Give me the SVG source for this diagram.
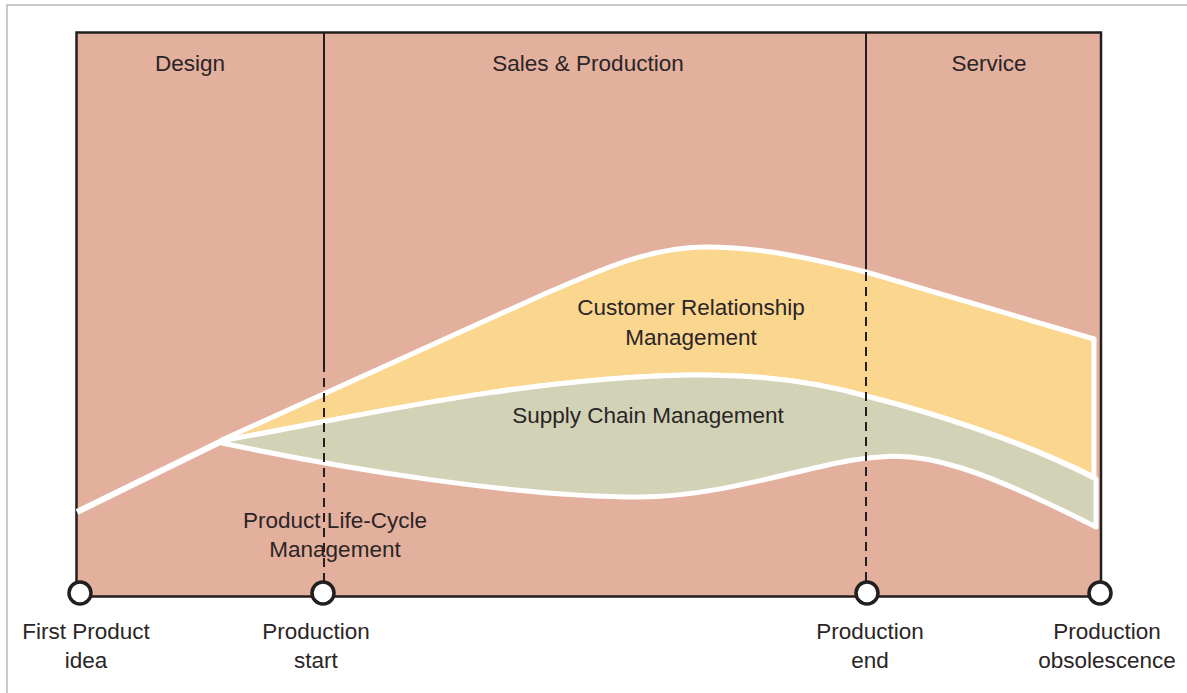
<svg xmlns="http://www.w3.org/2000/svg" width="1187" height="693" viewBox="0 0 1187 693">
  <style>
    .lbl { font-family: "Liberation Sans", Arial, sans-serif; font-size: 22.5px; fill: #2a2526; text-anchor: middle; }
    .box { fill: #e3b09d; stroke: #231f20; stroke-width: 2.5; }
    .div { stroke: #231f20; stroke-width: 2; fill: none; }
    .dash { stroke: #231f20; stroke-width: 2; fill: none; stroke-dasharray: 9 6; }
    .band { stroke: #ffffff; stroke-width: 5; stroke-linejoin: round; }
    .ms { fill: #ffffff; stroke: #231f20; stroke-width: 3.5; }
  </style>
  <rect x="0" y="0" width="1187" height="693" fill="#ffffff"/>
  <rect x="7" y="5" width="1200" height="720" fill="none" stroke="#b8b8b8" stroke-width="1.5"/>

  <g id="phases">
    <rect class="box" x="76.5" y="32.5" width="1024.5" height="564"/>
    <g id="phase-design"><text class="lbl" x="190" y="71">Design</text></g>
    <g id="phase-sales"><text class="lbl" x="588" y="71">Sales &amp; Production</text></g>
    <g id="phase-service"><text class="lbl" x="989" y="71">Service</text></g>
  </g>

  <g id="connectors">
    <line class="div" x1="324" y1="32" x2="324" y2="363"/>
    <line class="div" x1="866" y1="32" x2="866" y2="272"/>
  </g>

  <g id="plm">
    <line x1="77" y1="512" x2="224" y2="440" stroke="#ffffff" stroke-width="6"/>
    <text class="lbl" x="335" y="528">Product Life-Cycle</text>
    <text class="lbl" x="335" y="557">Management</text>
  </g>

  <g id="crm">
    <path class="band" fill="#fbd68f" d="M222,440 L540,296 C600,270 650,247 705,247 C760,247 810,258 866,272 L1094,339 L1094,477 C1020,440 930,412 866,396 C830,386 775,374 690,375 C520,378 350,418 226,440 Z"/>
    <text class="lbl" x="691" y="315">Customer Relationship</text>
    <text class="lbl" x="691" y="345">Management</text>
  </g>

  <g id="scm">
    <path class="band" fill="#d2d3b6" d="M226,440 C350,418 520,378 690,375 C775,374 830,386 866,396 C930,412 1020,440 1096,479 L1096,527 C980,468 925,452 880,457 C820,460 730,497 640,497 C520,497 350,470 222,443 Z"/>
    <text class="lbl" x="648" y="423">Supply Chain Management</text>
  </g>

  <g id="dashed-connectors">
    <line class="dash" x1="324" y1="363" x2="324" y2="584"/>
    <line class="dash" x1="866" y1="272" x2="866" y2="584"/>
  </g>

  <g id="ms-idea">
    <circle class="ms" cx="80" cy="593" r="11"/>
    <text class="lbl" x="86" y="639">First Product</text>
    <text class="lbl" x="86" y="668">idea</text>
  </g>
  <g id="ms-start">
    <circle class="ms" cx="323" cy="593" r="11"/>
    <text class="lbl" x="316" y="639">Production</text>
    <text class="lbl" x="316" y="668">start</text>
  </g>
  <g id="ms-end">
    <circle class="ms" cx="867" cy="593" r="11"/>
    <text class="lbl" x="870" y="639">Production</text>
    <text class="lbl" x="870" y="668">end</text>
  </g>
  <g id="ms-obsolescence">
    <circle class="ms" cx="1100" cy="593" r="11"/>
    <text class="lbl" x="1107" y="639">Production</text>
    <text class="lbl" x="1107" y="668">obsolescence</text>
  </g>
</svg>
